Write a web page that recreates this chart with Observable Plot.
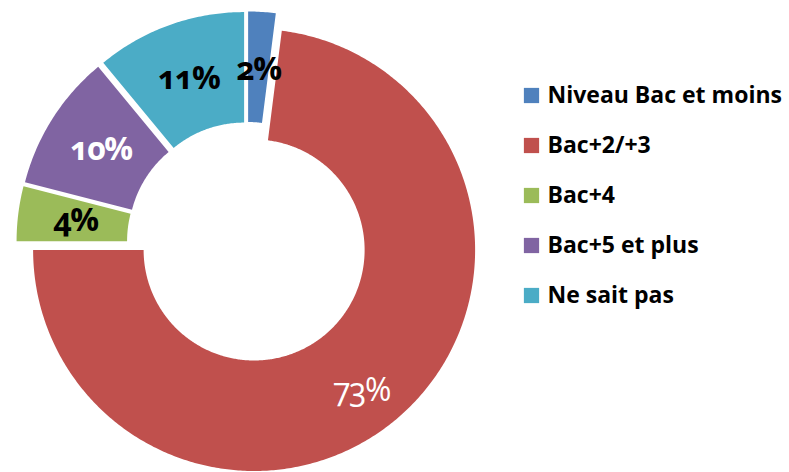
<!DOCTYPE html>
<html>
<head>
<meta charset="utf-8">
<script src="https://cdn.jsdelivr.net/npm/d3@7"></script>
<script src="https://cdn.jsdelivr.net/npm/@observablehq/plot@0.6"></script>
<style>
  html, body { margin: 0; padding: 0; background: #fff; }
  #chart svg { display: block; }
  #chart .pct text { letter-spacing: -1.5px; }
</style>
</head>
<body>
<div id="chart"></div>
<script>
// ---- data ----
const categories = ["Niveau Bac et moins", "Bac+2/+3", "Bac+4", "Bac+5 et plus", "Ne sait pas"];
const values = [2, 73, 4, 10, 11];
const labels = ["2%", "73%", "4%", "10%", "11%"];
const colors = ["#4F81BD", "#C0504D", "#9BBB59", "#8064A2", "#4BACC6"];
const labelInk = ["black", "white", "black", "white", "black"];
const labelWeight = ["bold", "normal", "bold", "bold", "bold"];

// ---- layout ----
const W = 789, H = 472;
const cx = 247, cy = 242;      // pie centre (px)
const R = 221;                 // outer radius (px)
const hole = 0.5;              // inner radius / outer radius
const explode = 10 / R;        // radial explosion, in radius units
const labelR = [0.74, 0.8, 0.74, 0.74, 0.74]; // label radius in radius units

const total = d3.sum(values);
const pts = [];
const labs = [];
let acc = 0;
values.forEach((v, i) => {
  const a0 = acc / total * 2 * Math.PI;
  acc += v;
  const a1 = acc / total * 2 * Math.PI;
  const am = (a0 + a1) / 2;
  const ox = explode * Math.sin(am), oy = -explode * Math.cos(am);
  const n = Math.max(8, Math.ceil((a1 - a0) / 0.01));
  const ring = [];
  for (let k = 0; k <= n; k++) {
    const a = a0 + (a1 - a0) * k / n;
    ring.push([ox + Math.sin(a), oy - Math.cos(a)]);
  }
  for (let k = n; k >= 0; k--) {
    const a = a0 + (a1 - a0) * k / n;
    ring.push([ox + hole * Math.sin(a), oy - hole * Math.cos(a)]);
  }
  ring.forEach(([x, y], j) => pts.push({cat: categories[i], x, y, j}));
  const lr = labelR[i];
  const la = i === 1 ? am + 0.07 : am;
  labs.push({
    cat: categories[i], text: labels[i], ink: labelInk[i], weight: labelWeight[i],
    x: ox + lr * Math.sin(la), y: oy - lr * Math.cos(la)
  });
});

const legend = categories.map((c, i) => ({cat: c, row: i}));
const legX = (531 - cx) / R;
const legY0 = (95 - cy) / R;
const legStep = 50 / R;

const chart = Plot.plot({
  width: W,
  height: H,
  margin: 0,
  style: {fontFamily: "'Open Sans', sans-serif", background: "#fff"},
  x: {domain: [-cx / R, (W - cx) / R], range: [0, W], axis: null},
  y: {domain: [-cy / R, (H - cy) / R], range: [0, H], axis: null},
  color: {domain: categories, range: colors, legend: false},
  marks: [
    Plot.line(pts, {x: "x", y: "y", z: "cat", fill: "cat", stroke: null, curve: "linear-closed"}),
    ...["bold", "normal"].flatMap(w => ["black", "white"].map(ink =>
      Plot.text(labs.filter(d => d.ink === ink && d.weight === w), {
        x: "x", y: "y", text: "text", fill: ink, fontSize: 32, fontWeight: w,
        fontVariant: "oldstyle-nums", textAnchor: "middle", lineAnchor: "middle",
        className: "pct"
      })
    )),
    Plot.dot(legend, {x: () => legX, y: d => legY0 + d.row * legStep, symbol: "square", r: 8.6, fill: "cat", stroke: null}),
    Plot.text(legend, {x: () => legX, y: d => legY0 + d.row * legStep, text: "cat", dx: 16, textAnchor: "start",
      fontSize: 23, fontWeight: "bold", fill: "black", lineAnchor: "middle"})
  ]
});
document.getElementById("chart").appendChild(chart);
</script>
</body>
</html>
